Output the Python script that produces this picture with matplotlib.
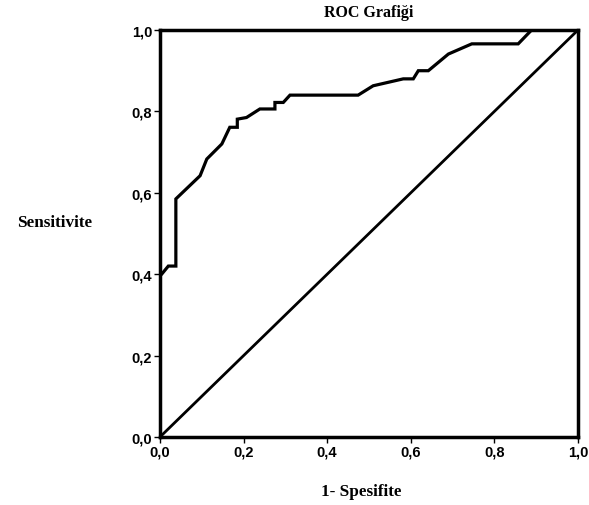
import matplotlib.pyplot as plt
from matplotlib.ticker import FuncFormatter

# ROC egrisi noktalari
fpr = [0.0, 0.004, 0.02, 0.038, 0.038, 0.096, 0.112, 0.148, 0.167, 0.185, 0.185, 0.207,
       0.239, 0.275, 0.275, 0.295, 0.311, 0.474, 0.510, 0.582, 0.606, 0.618, 0.642,
       0.690, 0.746, 0.857, 0.889, 1.0]
tpr = [0.40, 0.40, 0.42, 0.42, 0.585, 0.642, 0.683, 0.72, 0.761, 0.761, 0.781, 0.785,
       0.806, 0.806, 0.822, 0.822, 0.840, 0.840, 0.863, 0.880, 0.880, 0.900, 0.900,
       0.941, 0.966, 0.966, 1.0, 1.0]
ref_line = [0.0, 1.0]
ticks = [0.0, 0.2, 0.4, 0.6, 0.8, 1.0]

fig = plt.figure(figsize=(5.89, 5.06), dpi=100)
ax = fig.add_axes([0.2716, 0.1344, 0.7097, 0.8043])

ax.plot(fpr, tpr, color='black', linewidth=2.3, solid_joinstyle='miter')
ax.plot(ref_line, ref_line, color='black', linewidth=2.0)

ax.set_xlim(0, 1)
ax.set_ylim(0, 1)
ax.set_xticks(ticks)
ax.set_yticks(ticks)
fmt = FuncFormatter(lambda v, p: ('%.1f' % v).replace('.', ','))
ax.xaxis.set_major_formatter(fmt)
ax.yaxis.set_major_formatter(fmt)
for lab in ax.get_xticklabels() + ax.get_yticklabels():
    lab.set_family('Liberation Sans')
    lab.set_fontweight('bold')
    lab.set_fontsize(10.5)
ax.tick_params(direction='out', length=4, width=1, pad=1.5, colors='black')
for sp in ax.spines.values():
    sp.set_linewidth(2.5)

ax.set_title('ROC Grafiği', family='Liberation Serif', fontweight='bold', fontsize=11.5, pad=10)
fig.text(0.029, 0.559, 'Sensitivite', family='Liberation Serif', fontweight='bold',
         fontsize=12.3, ha='left', va='center')
fig.text(0.613, 0.028, '1- Spesifite', family='Liberation Serif', fontweight='bold',
         fontsize=12.3, ha='center', va='center')

fig.savefig('out.png', dpi=100)
